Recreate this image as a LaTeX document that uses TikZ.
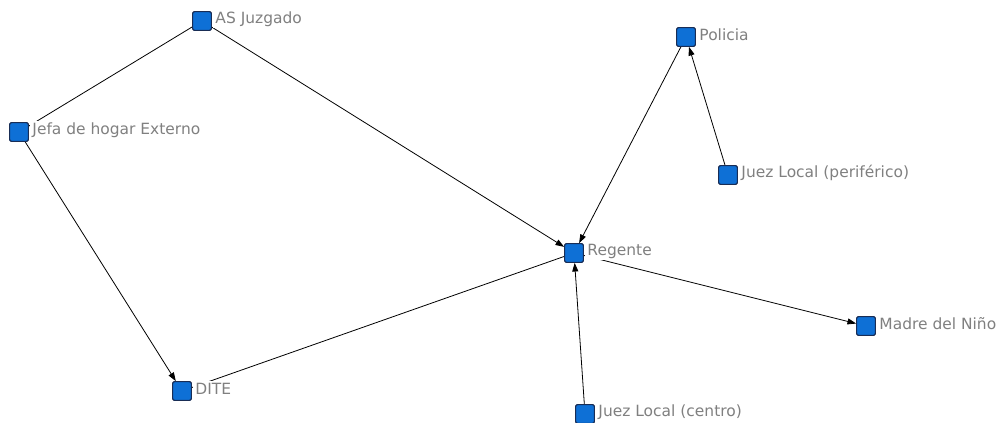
\documentclass[tikz,border=0pt]{standalone}
\usepackage{fontspec}
\setmainfont{DejaVu Sans}
\usetikzlibrary{arrows.meta}
\definecolor{nodeblue}{RGB}{14,112,214}
\definecolor{nodeedge}{RGB}{25,45,85}
\definecolor{labelgray}{RGB}{128,128,128}
\tikzset{
  actor/.style={rectangle, rounded corners=1.5pt, fill=nodeblue, draw=nodeedge,
    line width=0.8pt, minimum size=14pt, inner sep=0pt},
  lbl/.style={anchor=west, fill=white, inner sep=1.5pt, text=labelgray,
    font=\fontsize{11.6pt}{14pt}\selectfont},
  tie/.style={draw=black, line width=0.6pt},
  arr/.style={tie, -{Triangle[length=6.5pt,width=4.5pt]}}
}
\begin{document}
\begin{tikzpicture}[x=0.75pt,y=-0.75pt]
\clip (0,0) rectangle (998,423);
\fill[white] (0,0) rectangle (998,423);
% actor squares
\node[actor] (as) at (202,21) {};
\node[actor] (jefa) at (19,132) {};
\node[actor] (pol) at (686,37) {};
\node[actor] (jper) at (728,175) {};
\node[actor] (reg) at (574,253) {};
\node[actor] (madre) at (866,326) {};
\node[actor] (dite) at (182,391) {};
\node[actor] (jcen) at (585,414) {};
% ties
\draw[tie] (as) -- (jefa);
\draw[arr] (as) -- (reg);
\draw[arr] (jefa) -- (dite);
\draw[tie] (dite) -- (reg);
\draw[arr] (pol) -- (reg);
\draw[arr] (jper) -- (pol);
\draw[arr] (reg) -- (madre);
\draw[arr] (jcen) -- (reg);
% labels
\node[lbl] (las) at ([xshift=1pt,yshift=1.5pt]as.east) {AS Juzgado};
\node[lbl] (ljefa) at ([xshift=1pt,yshift=1.5pt]jefa.east) {Jefa de hogar Externo};
\node[lbl] (lpol) at ([xshift=1pt,yshift=1.5pt]pol.east) {Policia};
\node[lbl] (ljper) at ([xshift=1pt,yshift=1.5pt]jper.east) {Juez Local (periférico)};
\node[lbl] (lreg) at ([xshift=1pt,yshift=1.5pt]reg.east) {Regente};
\node[lbl] (lmadre) at ([xshift=1pt,yshift=1.5pt]madre.east) {Madre del Niño};
\node[lbl] (ldite) at ([xshift=1pt,yshift=1.5pt]dite.east) {DITE};
\node[lbl] (ljcen) at ([xshift=1pt,yshift=1.5pt]jcen.east) {Juez Local (centro)};
% redraw squares on top
\foreach \n in {as,jefa,pol,jper,reg,madre,dite,jcen}{
  \node[actor] at (\n) {};
}
\end{tikzpicture}
\end{document}
